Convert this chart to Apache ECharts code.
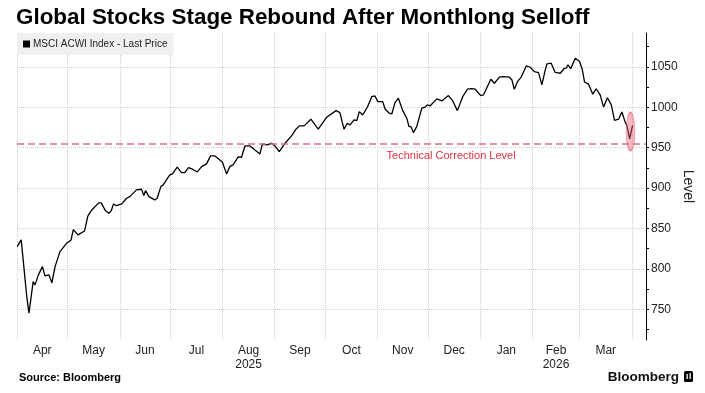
<!DOCTYPE html>
<html><head><meta charset="utf-8">
<script src="https://cdn.jsdelivr.net/npm/echarts@6/dist/echarts.min.js"></script>
<style>html,body{margin:0;padding:0;background:#fff}#c{width:705px;height:393px}</style>
</head><body><div id="c"></div>
<script>
// Days since 2025-04-01
const dayOffsets = [0.1, 2.5, 5.8, 7.1, 8.1, 9.6, 10.7, 12.7, 15.1, 16.6,
  19, 20.7, 22.6, 25.5, 29.5, 32.1, 33.4, 36.2, 40.1, 42.1,
  44.4, 48.5, 50, 52.4, 54.5, 56, 57.3, 59, 62.2, 65,
  67, 70.9, 73.9, 75.3, 76.3, 78.3, 81.8, 83.2, 85.4, 86.8,
  90.7, 92.3, 95.1, 97.7, 99.6, 101.8, 104.2, 107, 109.6, 112.5,
  114.9, 117.5, 121.9, 124.4, 126.4, 128.3, 131.3, 133.3, 135.3, 138.3,
  144.2, 145.6, 148.6, 151.2, 153.1, 155.7, 159.1, 163, 165.6, 167.6,
  170.4, 174.5, 178.8, 183.8, 189.4, 191.7, 194.1, 196.1, 197.7, 200.1,
  201.7, 203.2, 205.2, 208, 210.6, 212.5, 214.2, 217.1, 218.5, 221,
  222.5, 224.4, 226.4, 229, 231.4, 232.7, 233.9, 235.3, 237.3, 240.3,
  242.2, 243.6, 245.2, 249.2, 252.2, 256.1, 258.7, 261.4, 264.6, 267.4,
  270, 272, 275.3, 276.9, 281.3, 283.4, 286.4, 288.8, 292.3, 293.8,
  295.2, 297.1, 299.3, 302.3, 304.7, 307.1, 309.6, 311.6, 313.6, 314.6,
  317.1, 319.5, 322.5, 324.8, 326, 327, 328.7, 331.4, 333.9, 335.5,
  336.9, 339.3, 341.8, 343.8, 346.2, 348.2, 350.5, 352.8, 354.7, 357.1,
  359.1, 360.8, 362.1, 363.7, 365.4];
const levels = [827.6, 835.9, 765.7, 745.2, 743.1, 784.3, 780.2, 792.6, 802.8, 791.3,
  792.6, 782.7, 802.8, 821.4, 831.8, 835.9, 848.6, 842.1, 847, 865.6,
  873, 881.7, 881.7, 872.4, 868.9, 872.2, 880.4, 878.2, 880.4, 887.5,
  889.5, 897.8, 898.6, 890.7, 896.9, 889.5, 885.4, 887.5, 901.9, 904,
  916.3, 917.6, 925.9, 919.2, 919.2, 925.4, 923.4, 920, 926.6, 930,
  939.9, 939.9, 932.4, 917.6, 926.9, 928.7, 938.6, 938.2, 952.2, 952.2,
  942.3, 954.3, 953.5, 955.6, 952.2, 945.2, 955.6, 964.6, 972.9, 977,
  977, 985.3, 972.9, 987.7, 995.9, 993.4, 972.9, 980.3, 978.2, 984.4,
  983.5, 994.7, 990.6, 1000.1, 1013.2, 1014.1, 1007.1, 1007.1, 998, 992.7,
  991.8, 1005.8, 1011.3, 995.9, 986.5, 976.1, 976.1, 968.7, 976.1, 998.9,
  1000.1, 1003, 1001.7, 1010.4, 1007.9, 1014.5, 1007.9, 995.9, 1013.2, 1022.4,
  1023.1, 1022.4, 1014.5, 1015.3, 1034.8, 1029.8, 1037.3, 1038, 1037.3, 1033.9,
  1022.4, 1031.8, 1037.3, 1051.2, 1049.6, 1044.2, 1042.9, 1027.7, 1046.3, 1053.7,
  1054.6, 1043.2, 1042.2, 1048.1, 1048.4, 1052.5, 1047.9, 1060.8, 1057.1, 1047.5,
  1031.4, 1028.7, 1016.3, 1023, 1015.3, 1000.5, 1011.9, 1003, 983.8, 985.3,
  994.3, 983.2, 977, 961.1, 977.6];
const monthStarts = [0, 30, 61, 91, 122, 153, 183, 214, 244, 275, 306, 334, 365];
const monthMids = [15, 45.5, 76, 106.5, 137.5, 168, 198.5, 229, 259.5, 290.5, 320, 349.5];
const monthLabels = ['Apr', 'May', 'Jun', 'Jul', 'Aug\n2025', 'Sep', 'Oct', 'Nov', 'Dec', 'Jan', 'Feb\n2026', 'Mar'];
const yTickLabels = [750, 800, 850, 900, 950, 1000, 1050];
const yMinorTicks = [725, 750, 775, 800, 825, 850, 875, 900, 925, 950, 975, 1000, 1025, 1050, 1075];
const correctionLevel = 954.4;
const correctionLabelDay = 257.7;
const highlightPoint = [364.2, 970];
const seriesName = 'MSCI ACWI Index - Last Price';

const FONT = 'Liberation Sans, Arial, sans-serif';
const chart = echarts.init(document.getElementById('c'), null, {renderer: 'canvas'});
const option = {
  animation: false,
  backgroundColor: '#fff',
  textStyle: {fontFamily: FONT},
  title: [
    {text: 'Global Stocks Stage Rebound After Monthlong Selloff', left: 16, top: 7, padding: 0,
     textStyle: {fontSize: 22.4, fontWeight: 'bold', color: '#000', fontFamily: FONT}},
    {text: 'Source: Bloomberg', left: 19, top: 372, padding: 0,
     textStyle: {fontSize: 11, fontWeight: 'bold', color: '#000', fontFamily: FONT}},
    {text: 'Bloomberg', right: 26, top: 370, padding: 0,
     textStyle: {fontSize: 13.5, fontWeight: 'bold', color: '#111', fontFamily: FONT}}
  ],
  graphic: [
    {type: 'rect', left: 684, top: 371, shape: {width: 9, height: 11, r: 1.5}, style: {fill: '#000'}},
    {type: 'rect', left: 686.5, top: 374, shape: {width: 1.3, height: 5}, style: {fill: '#fff'}},
    {type: 'rect', left: 689.5, top: 373, shape: {width: 1.3, height: 6}, style: {fill: '#fff'}}
  ],
  legend: {
    data: [seriesName], left: 17, top: 33, padding: [6, 6, 6, 6],
    backgroundColor: '#f0f0f0', icon: 'rect', itemWidth: 7, itemHeight: 7,
    textStyle: {fontSize: 10, color: '#222', fontFamily: FONT, padding: [0, 0, 0, -2]}
  },
  grid: {left: 17, right: 59, top: 33, bottom: 53, containLabel: false, outerBoundsMode: 'none'},
  xAxis: {
    type: 'value', min: 0, max: 373.4,
    axisLine: {show: false}, axisTick: {show: false}, splitLine: {show: false},
    axisLabel: {
      customValues: monthMids, margin: 4, color: '#222', fontSize: 12, lineHeight: 14,
      formatter: function (v) {
        for (let i = 0; i < monthMids.length; i++) if (Math.abs(monthMids[i] - v) < 0.01) return monthLabels[i];
        return '';
      }
    }
  },
  yAxis: {
    type: 'value', position: 'right', min: 712, max: 1092,
    axisLine: {show: true, onZero: false, lineStyle: {color: '#000', width: 1}},
    axisTick: {show: true, customValues: yMinorTicks, length: 3, lineStyle: {color: '#000'}},
    axisLabel: {customValues: yTickLabels, color: '#222', fontSize: 12, margin: 5,
      formatter: function (v) { return String(v); }},
    splitLine: {show: false},
    name: 'Level', nameLocation: 'middle', nameRotate: -90, nameGap: 35, nameMoveOverlap: false,
    nameTextStyle: {fontSize: 14, color: '#222'}
  },
  series: [
    {
      type: 'line', data: [], silent: true,
      markLine: {
        silent: true, symbol: 'none', z: 1, animation: false,
        label: {show: false},
        lineStyle: {type: 'dotted', color: '#cfcfcf', width: 1},
        data: monthStarts.map(d => ({xAxis: d})).concat(yTickLabels.map(v => ({yAxis: v})))
      }
    },
    {
      type: 'line', data: [], silent: true,
      markLine: {
        silent: true, symbol: 'none', animation: false,
        label: {show: false},
        lineStyle: {type: [7, 4], color: '#e0707e', width: 1.6},
        data: [{yAxis: correctionLevel}]
      },
      markPoint: {
        silent: true, animation: false,
        data: [{coord: [correctionLabelDay, correctionLevel], symbol: 'rect', symbolSize: 0,
          label: {show: true, formatter: 'Technical Correction Level', position: 'bottom', distance: 6,
            color: '#d9333f', fontSize: 11, fontFamily: FONT}}]
      }
    },
    {
      name: seriesName, type: 'line', showSymbol: false, z: 3,
      data: dayOffsets.map((d, i) => [d, levels[i]]),
      lineStyle: {color: '#000', width: 1.3},
      itemStyle: {color: '#000'},
      markPoint: {
        silent: true, animation: false,
        data: [{coord: highlightPoint, symbol: 'circle', symbolSize: [9, 38],
          itemStyle: {color: 'rgba(236,96,118,0.45)', borderColor: 'rgba(220,70,95,0.55)', borderWidth: 1},
          label: {show: false}}]
      }
    }
  ]
};
chart.setOption(option);
</script></body></html>
